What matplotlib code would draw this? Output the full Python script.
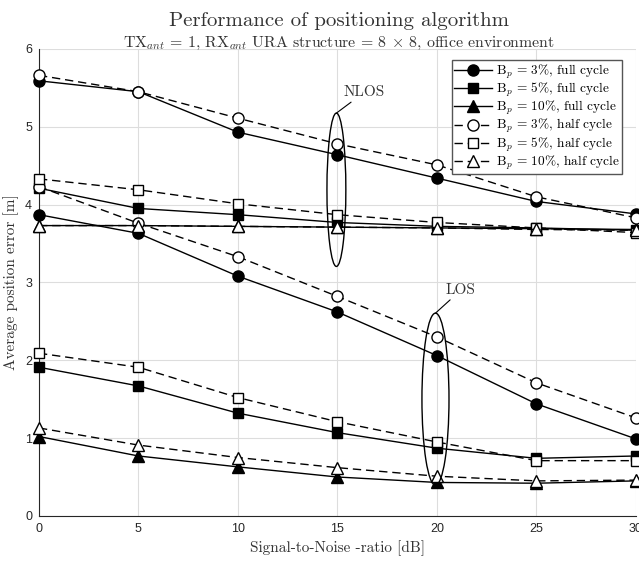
import matplotlib as mpl
import matplotlib.pyplot as plt
from matplotlib.patches import Ellipse

mpl.use('Agg')

plt.rcParams['mathtext.fontset'] = 'cm'
plt.rcParams['font.family'] = ['cmr10', 'DejaVu Serif']
plt.rcParams['axes.unicode_minus'] = False

snr = [0, 5, 10, 15, 20, 25, 30]

# NLOS
nlos_3_full = [5.59, 5.45, 4.93, 4.64, 4.34, 4.04, 3.88]
nlos_5_full = [4.21, 3.95, 3.87, 3.77, 3.72, 3.70, 3.67]
nlos_10_full = [3.73, 3.73, 3.72, 3.71, 3.70, 3.69, 3.68]
nlos_3_half = [5.66, 5.45, 5.11, 4.78, 4.51, 4.10, 3.83]
nlos_5_half = [4.33, 4.19, 4.01, 3.87, 3.77, 3.70, 3.64]
nlos_10_half = [3.73, 3.73, 3.72, 3.71, 3.70, 3.68, 3.67]

# LOS
los_3_full = [3.87, 3.63, 3.08, 2.62, 2.06, 1.44, 0.99]
los_5_full = [1.91, 1.67, 1.32, 1.07, 0.87, 0.74, 0.77]
los_10_full = [1.02, 0.77, 0.63, 0.50, 0.43, 0.42, 0.45]
los_3_half = [4.23, 3.76, 3.33, 2.82, 2.30, 1.71, 1.26]
los_5_half = [2.09, 1.91, 1.52, 1.21, 0.95, 0.71, 0.71]
los_10_half = [1.13, 0.91, 0.75, 0.62, 0.51, 0.45, 0.46]

labels = [r'B$_p$ = 3%, full cycle', r'B$_p$ = 5%, full cycle', r'B$_p$ = 10%, full cycle',
          r'B$_p$ = 3%, half cycle', r'B$_p$ = 5%, half cycle', r'B$_p$ = 10%, half cycle']

fig = plt.figure(figsize=(6.39, 5.62), dpi=100)
ax = fig.add_axes([0.061, 0.082, 0.934, 0.831])

dash = (0, (6, 3.5))
styles = [('o', '-', 'k'), ('s', '-', 'k'), ('^', '-', 'k'),
          ('o', dash, 'w'), ('s', dash, 'w'), ('^', dash, 'w')]
nlos = [nlos_3_full, nlos_5_full, nlos_10_full, nlos_3_half, nlos_5_half, nlos_10_half]
los = [los_3_full, los_5_full, los_10_full, los_3_half, los_5_half, los_10_half]

for i in range(6):
    m, ls, fc = styles[i]
    ms = 8 if m != 's' else 7
    ax.plot(snr, nlos[i], color='k', ls=ls, lw=1, marker=m, ms=ms, mfc=fc, mec='k', mew=1,
            label=labels[i], clip_on=False, zorder=3)
    ax.plot(snr, los[i], color='k', ls=ls, lw=1, marker=m, ms=ms, mfc=fc, mec='k', mew=1,
            clip_on=False, zorder=3)

ax.add_patch(Ellipse((14.95, 4.19), 0.95, 1.97, fill=False, ec='k', lw=1, zorder=4))
ax.add_patch(Ellipse((19.93, 1.50), 1.36, 2.21, fill=False, ec='k', lw=1, zorder=4))
ax.annotate('NLOS', xy=(14.95, 5.175), xytext=(15.3, 5.39), fontsize=11, color='#333333',
            arrowprops=dict(arrowstyle='-', color='k', lw=0.8, shrinkA=0, shrinkB=0), zorder=5)
ax.annotate('LOS', xy=(19.93, 2.605), xytext=(20.45, 2.85), fontsize=11, color='#333333',
            arrowprops=dict(arrowstyle='-', color='k', lw=0.8, shrinkA=0, shrinkB=0), zorder=5)

ax.set_xlim(0, 30)
ax.set_ylim(0, 6)
ax.set_xticks(snr)
ax.set_yticks(range(7))
ax.grid(True, color='#dddddd', lw=0.8)
ax.set_axisbelow(True)
for s in ['top', 'right']:
    ax.spines[s].set_visible(False)
for s in ['left', 'bottom']:
    ax.spines[s].set_color('#262626')
ax.tick_params(length=0, labelsize=9, colors='#262626', pad=5)
for t in ax.get_xticklabels() + ax.get_yticklabels():
    t.set_fontfamily('Liberation Sans')

ax.set_xlabel('Signal-to-Noise -ratio [dB]', fontsize=11, color='#333333', labelpad=4)
ax.set_ylabel('Average position error [m]', fontsize=11, color='#333333', labelpad=4)

fig.text(0.53, 0.978, 'Performance of positioning algorithm', ha='center', va='top',
         fontsize=15, color='#333333')
fig.text(0.53, 0.938, r'TX$_{ant}$ = 1, RX$_{ant}$ URA structure = 8 $\times$ 8, office environment',
         ha='center', va='top', fontsize=11.4, color='#333333')

leg = ax.legend(loc='upper right', bbox_to_anchor=(0.977, 0.976), fontsize=9.6, handlelength=2.8,
                handletextpad=0.3, borderpad=0.2, labelspacing=0.0, fancybox=False,
                framealpha=1, edgecolor='#555555', borderaxespad=0)
leg.get_frame().set_linewidth(1)

fig.savefig('out.png', dpi=100)
